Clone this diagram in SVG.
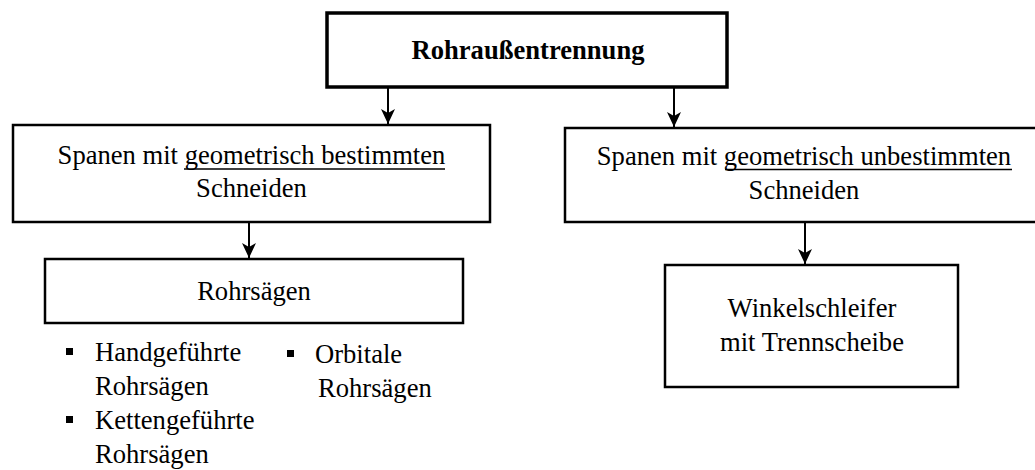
<svg xmlns="http://www.w3.org/2000/svg" width="1035" height="470" viewBox="0 0 1035 470">
  <style>
    text { font-family: "Liberation Serif", "Times New Roman", serif; font-size: 26.6px; fill: #000; }
    .c { text-anchor: middle; }
    .b { font-weight: bold; }
    .box { fill: #fff; stroke: #000; stroke-width: 2.5; }
    .box-main { fill: #fff; stroke: #000; stroke-width: 3.5; }
    .conn { stroke: #000; stroke-width: 2; fill: none; marker-end: url(#arrow); }
    .ul { stroke: #000; stroke-width: 1.6; }
  </style>
  <defs>
    <!-- arrowhead drawn along +x, tip at the end of the line -->
    <marker id="arrow" viewBox="0 0 15 14" refX="15" refY="7" markerWidth="15" markerHeight="14" markerUnits="userSpaceOnUse" orient="auto">
      <path d="M0,0 L4,7 L0,14 L15,7 Z" fill="#000"/>
    </marker>
  </defs>

  <!-- connectors -->
  <g id="connectors">
    <path class="conn" d="M388,87 V124"/>
    <path class="conn" d="M674,87 V127"/>
    <path class="conn" d="M249,222 V258"/>
    <path class="conn" d="M805,222 V264"/>
  </g>

  <g id="root">
    <rect class="box-main" x="327" y="13" width="400" height="74"/>
    <text class="c b" x="528" y="59">Rohraußentrennung</text>
  </g>

  <g id="geom-bestimmt">
    <rect class="box" x="13" y="125" width="477" height="97"/>
    <text class="c" x="251.5" y="163.5">Spanen mit geometrisch bestimmten</text>
    <line class="ul" x1="184" y1="169" x2="445" y2="169"/>
    <text class="c" x="251.5" y="197">Schneiden</text>
  </g>

  <g id="geom-unbestimmt">
    <rect class="box" x="565" y="128" width="490" height="94"/>
    <text class="c" x="804" y="164.5">Spanen mit geometrisch unbestimmten</text>
    <line class="ul" x1="725" y1="169.5" x2="1012" y2="169.5"/>
    <text class="c" x="804" y="199">Schneiden</text>
  </g>

  <g id="rohrsaegen">
    <rect class="box" x="45" y="259" width="418" height="64"/>
    <text class="c" x="254" y="299.5">Rohrsägen</text>
  </g>

  <g id="rohrsaegen-list">
    <rect x="66" y="348" width="7" height="7" fill="#000"/>
    <text x="95" y="361">Handgeführte</text>
    <text x="95" y="395">Rohrsägen</text>
    <rect x="66" y="416" width="7" height="7" fill="#000"/>
    <text x="95" y="429">Kettengeführte</text>
    <text x="95" y="463">Rohrsägen</text>
    <rect x="287" y="350" width="7" height="7" fill="#000"/>
    <text x="315" y="363">Orbitale</text>
    <text x="318" y="397">Rohrsägen</text>
  </g>

  <g id="winkelschleifer">
    <rect class="box" x="665" y="265" width="293" height="122"/>
    <text class="c" x="812" y="317">Winkelschleifer</text>
    <text class="c" x="812" y="351">mit Trennscheibe</text>
  </g>
</svg>
